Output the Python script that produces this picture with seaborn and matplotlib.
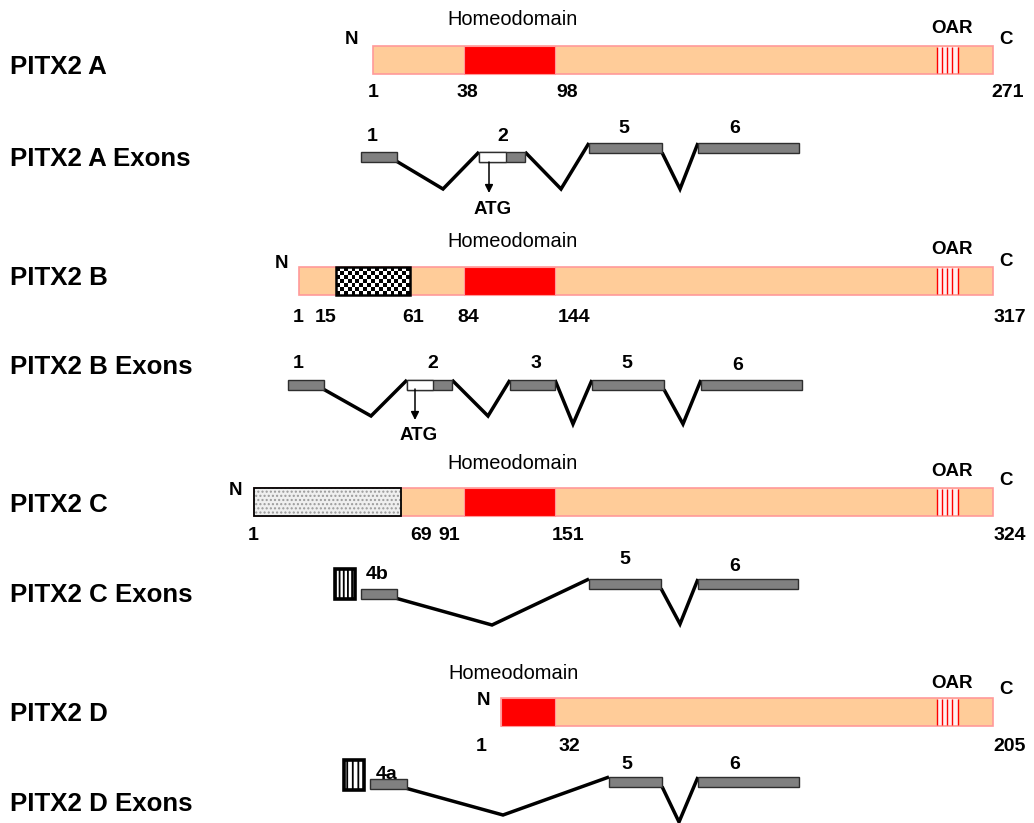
import numpy as np
import matplotlib
matplotlib.use("Agg")
import matplotlib.pyplot as plt
from matplotlib.patches import Rectangle
import seaborn as sns

sns.set_theme(style="white")
plt.rcParams["font.family"] = ["Liberation Sans", "DejaVu Sans"]
plt.rcParams["text.color"] = "black"
plt.rcParams["hatch.linewidth"] = 1.3

# ---------------- protein isoforms ----------------
isoforms = ["PITX2 A", "PITX2 B", "PITX2 C", "PITX2 D"]
lengths = [271, 317, 324, 205]
hd_start = [38, 84, 91, 1]
hd_end = [98, 144, 151, 32]
oar_start = [249, 295, 302, 183]
oar_end = [257, 303, 310, 191]
site_labels = [
    [1, 38, 98, 271],
    [1, 15, 61, 84, 144, 317],
    [1, 69, 91, 151, 324],
    [1, 32, 205],
]
b_specific = (15, 61)   # checkered region of isoform B
c_specific = (1, 69)    # stippled N-terminal region of isoform C

# ---------------- exon structures ----------------
exon_names = [
    ["1", "2", "5", "6"],
    ["1", "2", "3", "5", "6"],
    ["4b", "5", "6"],
    ["4a", "5", "6"],
]
atg_exon = [1, 1, None, None]   # exon index carrying the ATG start codon

# ---------------- layout (schematic, not to scale) ----------------
BAR_H = 28
bar_top = [46, 267, 488, 698]
# residue -> x anchor points for each isoform
anchor_x = [
    [373, 464, 555, 993],
    [299, 336, 410, 464, 555, 993],
    [254, 401, 464, 555, 993],
    [501, 555, 993],
]
label_dx = [
    [0, 3, 12, 15],
    [-1, -10, 3, 4, 19, 17],
    [-1, 20, -15, 13, 17],
    [-20, 14, 17],
]
hd_label_y = [25, 247, 469, 679]
n_pos = [(352, 44), (282, 268), (235, 495), (483, 705)]
c_label_y = [44, 266, 485, 694]
oar_label_y = [33, 254, 476, 688]
num_y = [97, 322, 540, 751]

EXON_H = 9.5
exon_boxes = [
    [(361, 397, 152), (479, 525, 152), (589, 662, 143), (698, 799, 143)],
    [(288, 324, 380), (407, 452, 380), (510, 555, 380), (592, 664, 380), (701, 802, 380)],
    [(361, 397, 589), (589, 661, 579), (698, 798, 579)],
    [(370, 407, 779), (609, 662, 777), (698, 799, 777)],
]
utr_end = [506, 433, None, None]
intron_dips = [
    [(443, 189), (561, 189), (680, 189)],
    [(371, 416), (488, 416), (573, 424), (683, 424)],
    [(492, 625), (680, 624)],
    [(503, 815), (679, 822)],
]
# whether each intron leaves the upstream exon from its lower edge
intron_from_bottom = [
    [True, False, True],
    [True, False, False, True],
    [True, True],
    [True, True],
]
exon_label_pos = [
    [(372, 141), (503, 141), (624, 133), (735, 133)],
    [(298, 368), (433, 368), (536, 368), (627, 368), (738, 370)],
    [(377, 579), (625, 564), (735, 571)],
    [(387, 779), (627, 769), (735, 769)],
]
atg_x = [489, 415, None, None]
atg_y = [(162, 193, 214), (389, 420, 440), None, None]
promoter_box = [None, None, (335, 355, 569, 599), (344, 364, 760, 790)]
promoter_hatch = [None, None, "||||", "|||"]
row_label_y = [74, 285, 512, 721]
exon_row_label_y = [166, 374, 602, 811]

PEACH = "#FFCC99"
PEACH_EDGE = "#FF9999"
RED = "#FF0000"
GREY = "#808080"

fig = plt.figure(figsize=(10.34, 8.23), dpi=100)
ax = fig.add_axes([0, 0, 1, 1])
ax.set_xlim(0, 1034)
ax.set_ylim(823, 0)
ax.axis("off")

for i, name in enumerate(isoforms):
    def to_x(r, i=i):
        return float(np.interp(r, site_labels[i], anchor_x[i]))

    y0 = bar_top[i]
    x_start, x_end = to_x(1), to_x(lengths[i])

    # full-length protein bar
    ax.add_patch(Rectangle((x_start, y0), x_end - x_start, BAR_H,
                           facecolor=PEACH, edgecolor=PEACH_EDGE, lw=1.2, zorder=2))
    # homeodomain
    hx0, hx1 = to_x(hd_start[i]), to_x(hd_end[i])
    ax.add_patch(Rectangle((hx0, y0), hx1 - hx0, BAR_H,
                           facecolor=RED, edgecolor=PEACH_EDGE, lw=0.8, zorder=3))
    ax.text((hx0 + hx1) / 2 + 3 if i < 3 else 513, hd_label_y[i], "Homeodomain",
            ha="center", va="baseline", fontsize=14.4)

    # OAR motif
    ox0, ox1 = to_x(oar_start[i]), to_x(oar_end[i])
    ax.add_patch(Rectangle((ox0, y0 + 0.6), ox1 - ox0, BAR_H - 1.2,
                           facecolor="#FFF0F0", edgecolor="none", zorder=3))
    ax.vlines(np.linspace(ox0, ox1, 5), y0 + 0.6, y0 + BAR_H - 0.6,
              colors=RED, lw=1.0, zorder=4)
    ax.text((ox0 + ox1) / 2 + 5, oar_label_y[i], "OAR", ha="center", va="baseline",
            fontsize=13.5, fontweight="bold")

    # isoform-specific N-terminal regions
    if i == 1:
        cx0, cx1 = to_x(b_specific[0]), to_x(b_specific[1])
        nx, ny = 19, 7
        checker = (np.add.outer(np.arange(ny), np.arange(nx)) % 2).astype(float)
        ax.imshow(checker, cmap="gray", extent=(cx0, cx1, y0 + BAR_H, y0),
                  interpolation="nearest", aspect="auto", zorder=3)
        ax.add_patch(Rectangle((cx0, y0), cx1 - cx0, BAR_H, facecolor="none",
                               edgecolor="black", lw=1.8, zorder=4))
    if i == 2:
        sx0, sx1 = to_x(c_specific[0]), to_x(c_specific[1])
        with plt.rc_context({"hatch.linewidth": 1.0}):
            ax.add_patch(Rectangle((sx0, y0), sx1 - sx0, BAR_H, facecolor="#EFEFEF",
                                   edgecolor="#9A9A9A", lw=0, hatch="....", zorder=3))
        ax.add_patch(Rectangle((sx0, y0), sx1 - sx0, BAR_H, facecolor="none",
                               edgecolor="black", lw=1.3, zorder=4))

    # terminus labels and residue numbers
    ax.text(n_pos[i][0], n_pos[i][1], "N", ha="center", va="baseline",
            fontsize=13.5, fontweight="bold")
    ax.text(x_end + 13, c_label_y[i], "C", ha="center", va="baseline",
            fontsize=13.5, fontweight="bold")
    for r, dx in zip(site_labels[i], label_dx[i]):
        ax.text(to_x(r) + dx, num_y[i], str(r), ha="center", va="baseline",
                fontsize=14, fontweight="bold")

    # row titles
    ax.text(10, row_label_y[i], name, ha="left", va="baseline",
            fontsize=18.6, fontweight="bold")
    ax.text(10, exon_row_label_y[i], name + " Exons", ha="left", va="baseline",
            fontsize=18.6, fontweight="bold")

    # ---------------- exon / intron structure ----------------
    boxes = exon_boxes[i]
    for k, (a, b) in enumerate(zip(boxes[:-1], boxes[1:])):
        dip = intron_dips[i][k]
        ya = a[2] + EXON_H if intron_from_bottom[i][k] else a[2]
        ax.plot([a[1], dip[0], b[0]], [ya, dip[1], b[2]], color="black", lw=2.5,
                solid_joinstyle="miter", solid_capstyle="butt", zorder=1)
    for k, (x0, x1, top) in enumerate(boxes):
        ax.add_patch(Rectangle((x0, top), x1 - x0, EXON_H, facecolor=GREY,
                               edgecolor="#2E2E2E", lw=1.0, zorder=2))
        if atg_exon[i] == k:
            ax.add_patch(Rectangle((x0, top), utr_end[i] - x0, EXON_H,
                                   facecolor="white", edgecolor="#2E2E2E",
                                   lw=1.0, zorder=3))
        lx, ly = exon_label_pos[i][k]
        ax.text(lx, ly, exon_names[i][k], ha="center", va="baseline",
                fontsize=14, fontweight="bold")

    if atg_x[i] is not None:
        y_a, y_b, y_t = atg_y[i]
        ax.annotate("", xy=(atg_x[i], y_b), xytext=(atg_x[i], y_a),
                    arrowprops=dict(arrowstyle="-|>", color="black", lw=1.1,
                                    mutation_scale=12, shrinkA=0, shrinkB=0))
        ax.text(atg_x[i] + 4, y_t, "ATG", ha="center", va="baseline",
                fontsize=13.5, fontweight="bold")

    if promoter_box[i] is not None:
        px0, px1, py0, py1 = promoter_box[i]
        ax.add_patch(Rectangle((px0, py0), px1 - px0, py1 - py0, facecolor="white",
                               edgecolor="black", lw=2.6, hatch=promoter_hatch[i],
                               zorder=2))

fig.savefig("out.png", dpi=100)
